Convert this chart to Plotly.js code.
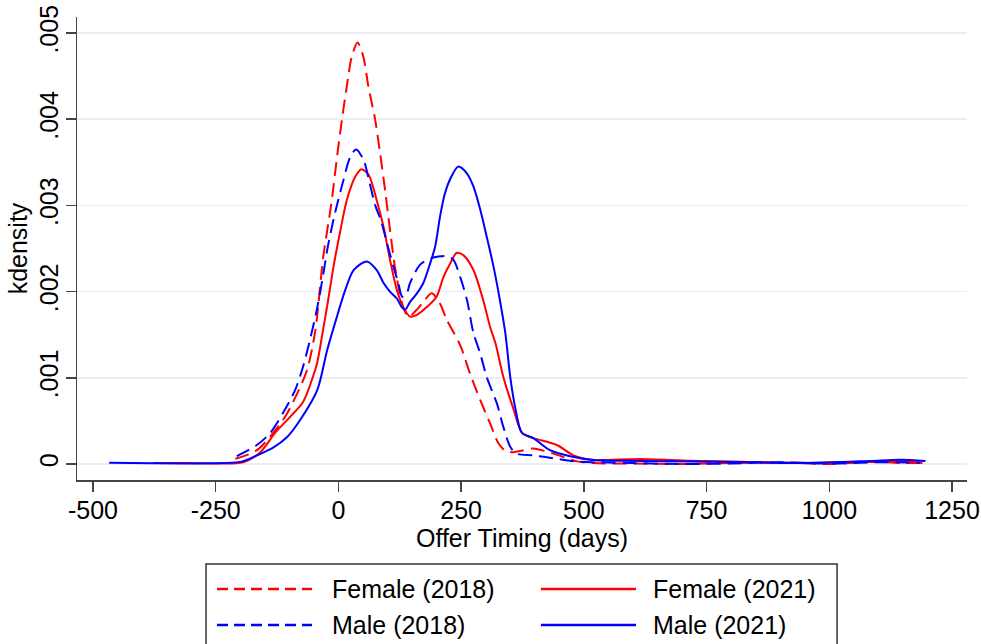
<!DOCTYPE html>
<html>
<head>
<meta charset="utf-8">
<script src="https://cdn.plot.ly/plotly-3.0.1.min.js"></script>
<style>html,body{margin:0;padding:0;background:#fff;}#chart{width:981px;height:644px;}</style>
</head>
<body>
<div id="chart"></div>
<script>
// ---- Data ----
var female2018_x = [-210, -166, -113, -88, -64, -47, -31, -15, -2, 7, 17, 27, 39, 51, 61, 75, 85, 95, 105, 115, 125, 133, 143, 158, 173, 190, 207, 221, 248, 268, 289, 309, 326, 343, 370, 397, 438, 486, 519, 600, 700, 800, 900, 1000, 1050, 1100, 1150, 1185];
var female2018_y = [0.00006, 0.00016, 0.00051, 0.00077, 0.00109, 0.00155, 0.00240, 0.00300, 0.00360, 0.00399, 0.00438, 0.00472, 0.00489, 0.00472, 0.00438, 0.00399, 0.00360, 0.00318, 0.00272, 0.00229, 0.00198, 0.00180, 0.00171, 0.00178, 0.00188, 0.00198, 0.00186, 0.00167, 0.00138, 0.00105, 0.00074, 0.00047, 0.00024, 0.00014, 0.00015, 0.00018, 0.00012, 0.00003, 0.00001, 0.000005, 0.0, 0.00001, 0.000015, 0.0, 0.000015, 0.000025, 0.00001, 0.000015];

var male2018_x = [-207, -166, -139, -113, -88, -72, -58, -44, -33, -21, -7, 10, 24, 36, 51, 64, 75, 87, 99, 112, 122, 130, 138, 146, 166, 190, 210, 221, 234, 248, 262, 275, 289, 302, 323, 336, 350, 363, 397, 437, 486, 533, 600, 700, 800, 900, 1000, 1100, 1185];
var male2018_y = [0.00009, 0.00022, 0.00036, 0.00059, 0.00086, 0.00113, 0.00144, 0.00179, 0.00213, 0.00254, 0.00291, 0.00329, 0.00356, 0.00365, 0.00353, 0.00325, 0.00300, 0.00282, 0.00256, 0.00229, 0.00210, 0.00194, 0.00196, 0.00210, 0.00231, 0.00239, 0.00241, 0.00241, 0.00237, 0.00217, 0.00190, 0.00152, 0.00128, 0.00101, 0.00070, 0.00043, 0.00020, 0.00012, 0.00010, 0.000066, 0.000027, 0.00002, 0.00001, 0.0, 0.000005, 0.00002, 0.000005, 0.00002, 0.000015];

var female2021_x = [-377, -300, -250, -194, -160, -129, -98, -72, -52, -43, -33, -21, -10, 3, 17, 34, 47, 62, 78, 92, 105, 119, 132, 146, 160, 180, 200, 214, 228, 241, 255, 275, 295, 309, 320, 336, 357, 374, 397, 445, 479, 520, 547, 615, 717, 818, 954, 1090, 1158, 1190];
var female2021_y = [0.00001, 0.00001, 0.000005, 0.00002, 0.00013, 0.00036, 0.00055, 0.00072, 0.00101, 0.00118, 0.00150, 0.00190, 0.00229, 0.00268, 0.00306, 0.00333, 0.00342, 0.00335, 0.00306, 0.00275, 0.00237, 0.00202, 0.00182, 0.00171, 0.00173, 0.00182, 0.00194, 0.00217, 0.00233, 0.00245, 0.00242, 0.00225, 0.00190, 0.00159, 0.00140, 0.00101, 0.00063, 0.00036, 0.00030, 0.00022, 0.00010, 0.000046, 0.000046, 0.000058, 0.000038, 0.000027, 0.000015, 0.000027, 0.00003, 0.00001];

var male2021_x = [-467, -377, -261, -197, -166, -133, -105, -78, -43, -23, -3, 14, 31, 58, 78, 92, 105, 119, 129, 136, 146, 160, 173, 187, 197, 207, 217, 228, 244, 262, 275, 289, 302, 316, 329, 340, 350, 360, 374, 397, 431, 472, 520, 615, 818, 953, 1083, 1144, 1196];
var male2021_y = [0.000015, 0.000008, 0.000008, 0.000027, 0.00010, 0.00019, 0.00031, 0.00051, 0.00086, 0.00132, 0.00171, 0.00202, 0.00225, 0.00235, 0.00225, 0.00210, 0.00200, 0.00192, 0.00182, 0.00179, 0.00188, 0.00198, 0.00210, 0.00233, 0.00252, 0.00287, 0.00314, 0.00331, 0.00345, 0.00337, 0.00322, 0.00295, 0.00264, 0.00229, 0.00190, 0.00152, 0.00101, 0.00066, 0.00036, 0.00030, 0.00016, 0.00009, 0.000046, 0.000035, 0.000023, 0.00001, 0.000035, 0.00005, 0.000035];

var seriesNames = ['Female (2018)', 'Female (2021)', 'Male (2018)', 'Male (2021)'];
var xTickVals = [-500, -250, 0, 250, 500, 750, 1000, 1250];
var xTickText = ['-500', '-250', '0', '250', '500', '750', '1000', '1250'];
var yTickVals = [0, 0.001, 0.002, 0.003, 0.004, 0.005];
var yTickText = ['0', '.001', '.002', '.003', '.004', '.005'];

// ---- Styles ----
var RED = '#ff0000', BLUE = '#0000ff';
var DASH = '14px,7px';
var FONT = 'Liberation Sans, Arial, Helvetica, sans-serif';

function mk(x, y, color, dash, name) {
  return {
    x: x, y: y, type: 'scatter', mode: 'lines', name: name,
    line: {color: color, width: 2, dash: dash, shape: 'spline', smoothing: 0.8},
    hoverinfo: 'skip', showlegend: false
  };
}

var traces = [
  mk(female2018_x, female2018_y, RED, DASH, seriesNames[0]),
  mk(female2021_x, female2021_y, RED, 'solid', seriesNames[1]),
  mk(male2018_x, male2018_y, BLUE, DASH, seriesNames[2]),
  mk(male2021_x, male2021_y, BLUE, 'solid', seriesNames[3])
];

// ---- Manual legend (two columns, long line samples) ----
var legendCols = [
  {x0: 0.1573, x1: 0.2640, tx: 0.2843},
  {x0: 0.5213, x1: 0.6281, tx: 0.6449}
];
var legendRows = [-0.2354, -0.3132];
var legendItems = [
  {name: seriesNames[0], color: RED, dash: '11px,6px', col: 0, row: 0},
  {name: seriesNames[1], color: RED, dash: 'solid', col: 1, row: 0},
  {name: seriesNames[2], color: BLUE, dash: '11px,6px', col: 0, row: 1},
  {name: seriesNames[3], color: BLUE, dash: 'solid', col: 1, row: 1}
];
var shapes = [{
  type: 'rect', xref: 'paper', yref: 'paper',
  x0: 0.145, x1: 0.854, y0: -0.40, y1: -0.1814,
  line: {color: '#333', width: 1.5}, fillcolor: 'rgba(0,0,0,0)'
}];
var annotations = [];
legendItems.forEach(function (it) {
  var c = legendCols[it.col], yy = legendRows[it.row];
  shapes.push({type: 'line', xref: 'paper', yref: 'paper', x0: c.x0, x1: c.x1, y0: yy, y1: yy,
    line: {color: it.color, width: 2.5, dash: it.dash}});
  annotations.push({xref: 'paper', yref: 'paper', x: c.tx, y: yy, xanchor: 'left', yanchor: 'middle',
    text: it.name, showarrow: false, font: {family: FONT, size: 25, color: '#000'}});
});

var layout = {
  width: 981, height: 644,
  margin: {l: 77, r: 14, t: 17, b: 164, pad: 0},
  paper_bgcolor: '#fff', plot_bgcolor: '#fff',
  font: {family: FONT, size: 25, color: '#000'},
  xaxis: {
    range: [-532.6, 1280.6], tickmode: 'array', tickvals: xTickVals, ticktext: xTickText,
    showline: true, linecolor: '#444', linewidth: 1.5, mirror: false,
    ticks: 'outside', ticklen: 10, tickwidth: 1.5, tickcolor: '#444',
    ticklabelstandoff: -3,
    showgrid: false, zeroline: false, automargin: false,
    tickfont: {family: FONT, size: 25, color: '#000'},
    title: {text: 'Offer Timing (days)', font: {family: FONT, size: 25, color: '#000'}, standoff: 0}
  },
  yaxis: {
    range: [-0.000186, 0.005186], tickmode: 'array', tickvals: yTickVals, ticktext: yTickText,
    tickangle: -90,
    showline: true, linecolor: '#444', linewidth: 1.5, mirror: false,
    ticks: 'outside', ticklen: 10, tickwidth: 1.5, tickcolor: '#444',
    ticklabelstandoff: -2,
    showgrid: true, gridcolor: '#e6eff1', gridwidth: 1.5, zeroline: false, automargin: false,
    tickfont: {family: FONT, size: 25, color: '#000'},
    title: {text: 'kdensity', font: {family: FONT, size: 25, color: '#000'}, standoff: 0}
  },
  shapes: shapes,
  annotations: annotations,
  showlegend: false
};

Plotly.newPlot('chart', traces, layout, {displayModeBar: false, staticPlot: true});
</script>
</body>
</html>
